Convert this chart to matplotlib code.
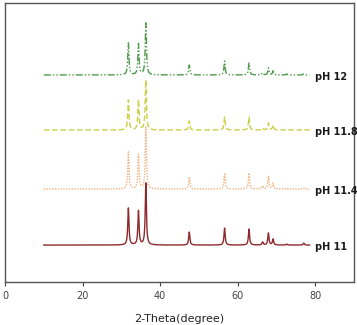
import numpy as np
import matplotlib.pyplot as plt

# peak positions (2-theta) and peak heights for each sample
peaks = [31.8, 34.4, 36.3, 47.5, 56.6, 62.9, 66.4, 67.9, 69.1, 72.6, 77.0]
h_ph11 = [37, 34, 62, 13, 17, 16, 3, 12, 6, 1, 2]
h_ph114 = [37, 34, 62, 12, 16, 16, 3, 13, 6, 1, 1]
h_ph118 = [30, 30, 50, 9, 13, 13, 2, 7, 5, 1, 1]
h_ph12 = [32, 31, 52, 10, 14, 12, 2, 7, 4, 1, 1]

labels = ['pH 11', 'pH 11.4', 'pH 11.8', 'pH 12']
offsets = [37, 93, 152, 207]
colors = ['#8E2A2E', '#F2B27E', '#C9D044', '#4E9A4A']
styles = ['-', (0, (1, 1)), (0, (4, 2)), (0, (5, 1.5, 1, 1.5, 1, 1.5))]

x = np.linspace(10, 78.5, 3000)


def profile(heights, w=0.18):
    y = np.zeros_like(x)
    for p, h in zip(peaks, heights):
        y += h / (1 + ((x - p) / w) ** 2)
    return y


fig = plt.figure(figsize=(3.57, 3.25), dpi=100)
ax = fig.add_axes([0.014, 0.132, 0.978, 0.859])

for hs, off, c, ls, lab in zip([h_ph11, h_ph114, h_ph118, h_ph12],
                               offsets, colors, styles, labels):
    ax.plot(x, profile(hs) + off, color=c, linestyle=ls, linewidth=1.0)
    ax.text(79.8, off - 2, lab, fontsize=7, fontweight='bold',
            va='center', ha='left', color='#1a1a1a')

ax.set_xlim(0, 90)
ax.set_ylim(0, 279)
ax.set_xticks([0, 20, 40, 60, 80])
ax.set_yticks([])
ax.tick_params(axis='x', labelsize=7, colors='#444444', length=3, width=0.8)
for s in ax.spines.values():
    s.set_color('#555555')
    s.set_linewidth(1.0)
ax.set_xlabel('2-Theta(degree)', fontsize=8, color='#222222', labelpad=9)

fig.savefig('out.png', dpi=100)
